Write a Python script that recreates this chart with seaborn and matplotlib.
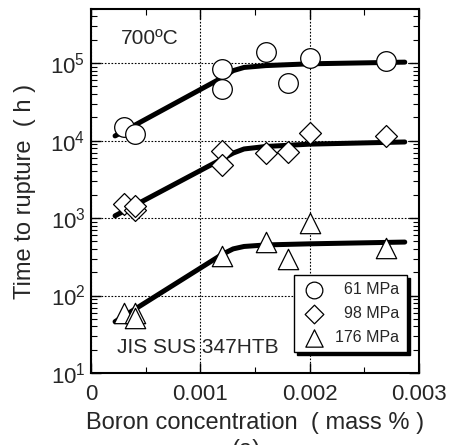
import numpy as np
import pandas as pd
import matplotlib
matplotlib.use("Agg")
import matplotlib.pyplot as plt
import matplotlib.ticker as mticker
import seaborn as sns

# ---- data ----
series_labels = ["61 MPa", "98 MPa", "176 MPa"]
legend_labels = ["  61 MPa", "  98 MPa", "176 MPa"]

x61 = [0.0003, 0.0004, 0.0012, 0.0012, 0.0016, 0.0018, 0.0020, 0.0027]
y61 = [1.5e4, 1.2e4, 8.4e4, 4.6e4, 1.38e5, 5.5e4, 1.15e5, 1.05e5]

x98 = [0.0003, 0.0004, 0.0004, 0.0012, 0.0012, 0.0016, 0.0018, 0.0020, 0.0027]
y98 = [1.5e3, 1.27e3, 1.45e3, 7.4e3, 4.8e3, 7.0e3, 7.2e3, 1.26e4, 1.15e4]

x176 = [0.0003, 0.0004, 0.0004, 0.0012, 0.0016, 0.0018, 0.0020, 0.0027]
y176 = [59, 59, 51, 324, 494, 300, 870, 406]

fit_x = [0.00022, 0.0012, 0.0013, 0.0014, 0.0016, 0.0020, 0.00287]
fit61 = [1.15e4, 6.5e4, 8.0e4, 8.8e4, 9.3e4, 9.8e4, 1.03e5]
fit98 = [1.07e3, 5.8e3, 6.9e3, 7.8e3, 8.4e3, 9.0e3, 9.6e3]
fit176 = [46, 340, 400, 430, 450, 465, 490]

xticks = [0, 0.001, 0.002, 0.003]
xtick_labels = ["0", "0.001", "0.002", "0.003"]

# ---- style ----
sns.set_theme(style="white")
plt.rcParams["font.family"] = ["Liberation Sans", "DejaVu Sans"]
plt.rcParams["mathtext.fontset"] = "custom"
plt.rcParams["mathtext.rm"] = "Liberation Sans"
plt.rcParams["mathtext.default"] = "regular"

pts = pd.DataFrame({
    "x": x61 + x98 + x176,
    "y": y61 + y98 + y176,
    "s": [series_labels[0]] * len(x61) + [series_labels[1]] * len(x98) + [series_labels[2]] * len(x176),
})
fits = pd.DataFrame({
    "x": fit_x * 3,
    "y": fit61 + fit98 + fit176,
    "s": [series_labels[0]] * len(fit_x) + [series_labels[1]] * len(fit_x) + [series_labels[2]] * len(fit_x),
})

fig = plt.figure(figsize=(4.51, 4.45), dpi=100)
ax = fig.add_axes([0.2018, 0.1618, 0.7272, 0.818])

sns.lineplot(data=fits, x="x", y="y", units="s", estimator=None, color="black",
             lw=3.6, ax=ax, zorder=2, legend=False, sort=False)

markers = {series_labels[0]: "o", series_labels[1]: "D", series_labels[2]: "^"}
sizes = {series_labels[0]: 200, series_labels[1]: 125, series_labels[2]: 215}
for lab in series_labels:
    sub = pts[pts["s"] == lab]
    sns.scatterplot(data=sub, x="x", y="y", marker=markers[lab], s=sizes[lab],
                    facecolor="white", edgecolor="black", linewidth=0.9,
                    ax=ax, zorder=3, label=legend_labels[series_labels.index(lab)])

ax.set_yscale("log")
ax.set_xlim(0, 0.003)
ax.set_ylim(10, 5e5)
ax.set_xticks(xticks)
ax.set_xticklabels(xtick_labels)
ax.xaxis.set_minor_locator(mticker.MultipleLocator(0.0005))
ax.yaxis.set_major_locator(mticker.LogLocator(base=10, numticks=10))
ax.yaxis.set_minor_locator(mticker.LogLocator(base=10, subs=np.arange(2, 10), numticks=20))
ax.yaxis.set_minor_formatter(mticker.NullFormatter())
ax.yaxis.set_major_formatter(mticker.FuncFormatter(lambda v, p: r"$10^{%d}$" % round(np.log10(v))))

ax.tick_params(axis="both", which="both", direction="in", top=True, right=True,
               bottom=True, left=True, color="black")
ax.tick_params(axis="both", which="major", length=7, width=1.0)
ax.tick_params(axis="both", which="minor", length=4, width=0.8)
ax.tick_params(axis="x", which="major", labelsize=16, pad=8)
ax.tick_params(axis="y", which="major", labelsize=16, pad=4)

ax.grid(True, which="major", linestyle=(0, (1.5, 1.5)), color="black", lw=0.8)
for sp in ax.spines.values():
    sp.set_color("black")
    sp.set_linewidth(1.5)

ax.set_xlabel("Boron concentration  ( mass % )", fontsize=17, labelpad=5)
ax.set_ylabel("Time to rupture  ( h )", fontsize=17, labelpad=10)

ax.text(0.09, 0.918, "700ºC", transform=ax.transAxes, fontsize=15, ha="left", va="center")
ax.text(0.08, 0.07, "JIS SUS 347HTB", transform=ax.transAxes, fontsize=15, ha="left", va="center")

leg = ax.legend(loc="lower right", bbox_to_anchor=(0.963, 0.058), fontsize=11.5,
                frameon=True, fancybox=False, edgecolor="black", framealpha=1,
                shadow={"color": "black", "alpha": 1}, labelspacing=0.55,
                handlelength=1.6, handletextpad=0.55, borderpad=0.45,
                borderaxespad=0, markerscale=0.85)
leg.get_frame().set_linewidth(1.0)

fig.text(0.545, -0.012, "(a)", fontsize=17, ha="center", va="center")

fig.savefig("out.png", dpi=100)
